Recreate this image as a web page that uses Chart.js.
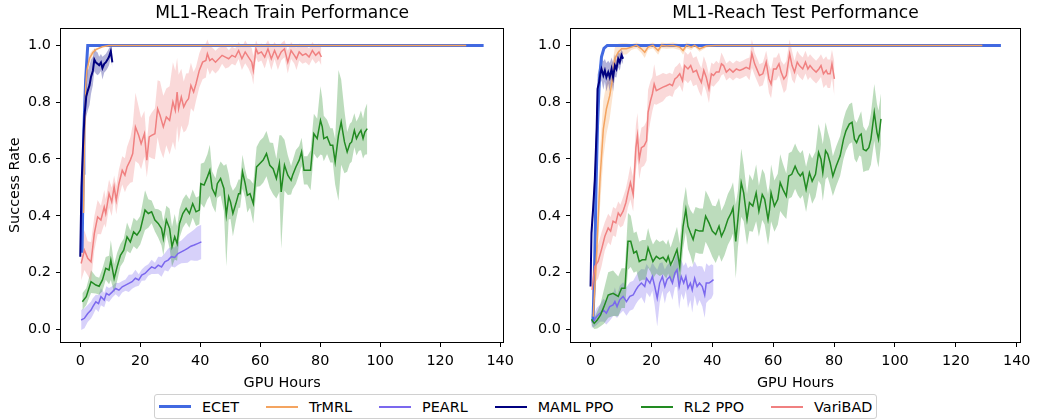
<!DOCTYPE html>
<html>
<head>
<meta charset="utf-8">
<title>ML1-Reach Performance</title>
<script src="https://cdn.jsdelivr.net/npm/chart.js@4.4.0/dist/chart.umd.min.js"></script>
<style>
  body { margin: 0; background: #fff; font-family: "DejaVu Sans", sans-serif; }
  #page { position: relative; width: 1037px; height: 420px; overflow: hidden; }
  .panel { position: absolute; top: 0; height: 392px; }
  #trainBox { left: 0; width: 520px; }
  #testBox { left: 520px; width: 517px; }
  #legend {
    position: absolute; left: 154px; top: 394px; height: 23px;
    border: 1px solid #d0d0d0; border-radius: 3px;
    display: flex; align-items: center; padding: 0 4px; gap: 27px;
    font-size: 14.4px; color: #000; white-space: nowrap;
  }
  .item { display: flex; align-items: center; }
  .swatch { width: 32px; margin-right: 11px; }
</style>
</head>
<body>
<div id="page">
  <div class="panel" id="trainBox"><canvas id="trainChart"></canvas></div>
  <div class="panel" id="testBox"><canvas id="testChart"></canvas></div>
  <div id="legend"></div>
</div>
<script>
// series, legend order
const SERIES = ['ECET', 'TrMRL', 'PEARL', 'MAML PPO', 'RL2 PPO', 'VariBAD'];
const COLORS = ['#4169e1', '#f4a460', '#7b68ee', '#000080', '#228b22', '#f08080'];
const BANDS = ['rgba(65,105,225,0.3)', 'rgba(244,164,96,0.3)', 'rgba(123,104,238,0.3)',
               'rgba(0,0,128,0.3)', 'rgba(34,139,34,0.3)', 'rgba(240,128,128,0.3)'];
const WIDTHS = [3, 1.5, 1.5, 2, 1.5, 1.5];

const X_TICKS = [0, 20, 40, 60, 80, 100, 120, 140];
const Y_TICKS = [0.0, 0.2, 0.4, 0.6, 0.8, 1.0];

// each run: [GPU hours, success rate, band half-width]
const trainEcet = [[0.6,0.27,0],[1.0,0.55,0],[1.2,0.70,0],[1.8,0.88,0],[2.5,1.0,0],[134.5,1.0,0]];
const trainTrmrl = [[1.1,0.41,0],[1.4,0.65,0.02],[1.8,0.85,0.02],[2.2,0.91,0.02],[3.1,0.955,0.015],
  [4.2,0.975,0.01],[5.2,0.985,0.005],[7.4,0.995,0],[9.6,1.0,0],[128.7,1.0,0]];
const trainPearl = [[0.3,0.033,0.035],[1.4,0.039,0.035],[2.5,0.056,0.03],[3.6,0.068,0.03],[4.2,0.08,0.03],
  [5.2,0.097,0.025],[6.1,0.091,0.03],[6.9,0.115,0.03],[8.0,0.103,0.025],[8.7,0.127,0.025],[9.6,0.121,0.025],
  [10.7,0.132,0.02],[11.8,0.144,0.02],[12.9,0.138,0.025],[14.0,0.15,0.02],[15.1,0.156,0.02],[16.2,0.162,0.03],
  [17.3,0.168,0.025],[18.4,0.18,0.03],[19.5,0.174,0.02],[20.5,0.191,0.02],[21.6,0.197,0.025],[22.7,0.209,0.02],
  [23.8,0.22,0.025],[24.9,0.215,0.02],[26.0,0.226,0.03],[27.1,0.22,0.035],[28.2,0.238,0.03],[29.3,0.244,0.04],
  [30.4,0.256,0.035],[31.5,0.253,0.035],[32.6,0.267,0.04],[33.7,0.273,0.04],[34.8,0.279,0.045],[35.8,0.285,0.05],
  [36.9,0.293,0.05],[38.0,0.297,0.055],[39.1,0.302,0.06],[40.4,0.308,0.06]];
const trainMaml = [[0,0.256,0.03],[0.4,0.50,0.06],[0.9,0.64,0.06],[1.4,0.75,0.06],[2.0,0.82,0.07],[2.5,0.84,0.07],
  [3.1,0.86,0.07],[3.6,0.89,0.06],[4.2,0.91,0.05],[4.7,0.95,0.04],[5.2,0.94,0.04],[5.8,0.935,0.04],[6.3,0.93,0.03],
  [6.9,0.94,0.03],[7.4,0.92,0.04],[8.0,0.935,0.03],[8.5,0.94,0.03],[9.1,0.95,0.03],[9.6,0.96,0.03],[10.2,0.98,0.02],
  [10.7,0.94,0.02]];
const trainRl2 = [[0.7,0.097,0.03],[2.0,0.115,0.03],[3.6,0.168,0.04],[5.2,0.156,0.03],[6.3,0.152,0.03],
  [7.4,0.174,0.04],[8.5,0.215,0.04],[9.6,0.209,0.05],[10.2,0.244,0.07],[11.3,0.179,0.05],[12.3,0.220,0.05],
  [13.4,0.261,0.04],[14.5,0.279,0.04],[15.6,0.326,0.05],[16.7,0.308,0.04],[17.8,0.343,0.05],[18.9,0.332,0.05],
  [20.0,0.349,0.05],[21.6,0.420,0.07],[22.7,0.408,0.05],[23.8,0.414,0.04],[24.9,0.385,0.04],[26.0,0.373,0.05],
  [27.1,0.355,0.06],[27.7,0.320,0.06],[28.7,0.385,0.05],[29.8,0.355,0.07],[30.6,0.291,0.07],[31.5,0.326,0.08],
  [32.3,0.302,0.06],[33.1,0.373,0.05],[34.2,0.408,0.05],[35.3,0.426,0.05],[36.4,0.408,0.05],[37.5,0.443,0.05],
  [38.6,0.414,0.05],[39.7,0.420,0.05],[40.2,0.513,0.07],[41.3,0.508,0.08],[42.4,0.537,0.08],[43.2,0.560,0.09],
  [44.0,0.496,0.06],[45.1,0.472,0.06],[45.7,0.513,0.05],[46.8,0.531,0.06],[47.9,0.496,0.08],[48.7,0.402,0.18],
  [49.5,0.467,0.08],[50.1,0.449,0.06],[50.9,0.408,0.08],[51.9,0.443,0.06],[52.8,0.478,0.05],[53.3,0.478,0.05],
  [54.1,0.555,0.06],[55.0,0.513,0.05],[55.7,0.472,0.06],[56.6,0.478,0.05],[57.7,0.443,0.07],[58.8,0.572,0.07],
  [59.9,0.584,0.08],[61.0,0.596,0.08],[62.1,0.619,0.08],[63.2,0.578,0.08],[64.3,0.566,0.09],[65.4,0.531,0.07],
  [66.4,0.584,0.10],[67.0,0.484,0.20],[68.1,0.578,0.09],[69.2,0.543,0.07],[70.3,0.525,0.05],[70.8,0.543,0.05],
  [71.9,0.572,0.06],[73.0,0.596,0.05],[73.8,0.625,0.05],[74.6,0.560,0.05],[75.7,0.560,0.05],[76.8,0.560,0.07],
  [77.9,0.689,0.07],[79.0,0.672,0.07],[80.1,0.736,0.12],[80.7,0.713,0.10],[81.2,0.672,0.08],[82.3,0.678,0.06],
  [83.4,0.648,0.06],[84.2,0.648,0.06],[85.0,0.590,0.08],[86.1,0.683,0.23],[87.0,0.730,0.15],[88.1,0.660,0.11],
  [89.0,0.625,0.07],[89.9,0.654,0.07],[90.5,0.660,0.07],[91.4,0.701,0.06],[92.1,0.672,0.06],[92.9,0.689,0.06],
  [93.6,0.701,0.07],[94.3,0.672,0.07],[94.9,0.695,0.08],[95.7,0.707,0.09]];
const trainVaribad = [[0.3,0.232,0.06],[1.4,0.279,0.07],[2.5,0.250,0.06],[3.6,0.238,0.07],[4.7,0.338,0.06],
  [5.8,0.396,0.06],[6.9,0.385,0.05],[8.0,0.431,0.06],[8.5,0.408,0.05],[9.6,0.478,0.05],[10.5,0.449,0.05],
  [11.3,0.502,0.04],[12.0,0.455,0.05],[12.9,0.513,0.05],[14.0,0.560,0.05],[14.9,0.543,0.06],[15.6,0.572,0.07],
  [16.7,0.596,0.08],[17.5,0.619,0.10],[18.4,0.713,0.12],[19.5,0.683,0.10],[20.3,0.654,0.09],[21.4,0.689,0.08],
  [22.2,0.596,0.06],[23.0,0.678,0.07],[23.8,0.683,0.08],[24.9,0.689,0.09],[25.8,0.777,0.10],[26.6,0.754,0.12],
  [27.7,0.713,0.11],[28.7,0.748,0.10],[29.8,0.736,0.12],[30.9,0.801,0.14],[31.7,0.771,0.14],[32.3,0.836,0.12],
  [32.8,0.777,0.12],[33.7,0.818,0.10],[34.5,0.783,0.09],[35.3,0.801,0.10],[36.1,0.812,0.09],[36.9,0.859,0.08],
  [37.8,0.836,0.07],[38.6,0.865,0.06],[39.7,0.912,0.06],[40.8,0.941,0.06],[41.9,0.947,0.06],[42.4,0.971,0.05],
  [43.2,0.947,0.05],[44.0,0.953,0.04],[45.1,0.941,0.04],[46.2,0.953,0.04],[47.3,0.965,0.03],[48.4,0.959,0.04],
  [49.5,0.953,0.03],[50.6,0.965,0.03],[51.7,0.959,0.03],[52.8,0.982,0.03],[53.9,0.953,0.04],[55.0,0.977,0.04],
  [56.1,0.959,0.04],[57.2,0.941,0.05],[57.7,0.912,0.05],[58.6,0.988,0.03],[59.3,0.971,0.03],[60.4,0.977,0.03],
  [61.5,0.959,0.04],[62.6,0.988,0.03],[63.7,0.953,0.04],[64.8,0.982,0.03],[65.9,0.953,0.04],[67.0,0.977,0.03],
  [68.1,0.988,0.03],[69.2,0.941,0.04],[70.3,0.982,0.03],[71.4,0.965,0.03],[72.1,0.953,0.04],[73.0,0.977,0.03],
  [74.1,0.965,0.03],[75.2,0.971,0.03],[76.3,0.959,0.03],[77.4,0.982,0.03],[78.5,0.965,0.03],[79.6,0.977,0.03],
  [80.4,0.959,0.03]];

const testEcet = [[0.8,0.03,0],[1.3,0.2,0],[1.8,0.5,0],[2.3,0.72,0],[2.9,0.88,0],[3.6,0.96,0],[4.4,0.99,0],
  [5.5,1.0,0],[134.8,1.0,0]];
const testTrmrl = [[0.9,0.045,0.02],[2.0,0.269,0.08],[3.1,0.528,0.1],[4.2,0.705,0.1],[5.2,0.776,0.09],
  [6.3,0.823,0.08],[7.4,0.894,0.06],[8.0,0.953,0.04],[9.1,0.976,0.03],[10.2,0.988,0.02],[11.8,0.988,0.02],
  [13.4,0.994,0.01],[15.1,1.0,0.01],[16.7,0.988,0.015],[17.8,0.976,0.02],[18.9,0.994,0.01],[20.5,1.0,0.01],
  [22.2,0.982,0.015],[23.3,1.0,0.01],[24.9,0.998,0.01],[27.1,1.0,0.01],[29.3,0.994,0.01],[30.4,0.982,0.015],
  [31.5,1.0,0.01],[33.1,0.994,0.01],[34.2,1.0,0.005],[35.8,0.988,0.01],[38.0,0.998,0.005],[41.3,1.0,0],
  [128.7,1.0,0]];
const testPearl = [[0.3,0.027,0.02],[0.9,0.027,0.02],[2.0,0.045,0.03],[3.1,0.057,0.03],[4.2,0.068,0.04],
  [5.2,0.057,0.04],[6.3,0.080,0.05],[7.4,0.086,0.04],[8.0,0.098,0.05],[8.7,0.080,0.04],[9.6,0.104,0.05],
  [10.7,0.116,0.05],[11.8,0.098,0.05],[12.9,0.116,0.05],[14.0,0.121,0.05],[14.9,0.139,0.05],[15.6,0.151,0.05],
  [16.7,0.163,0.05],[17.8,0.151,0.06],[18.4,0.180,0.05],[19.5,0.163,0.05],[20.3,0.186,0.05],[21.1,0.151,0.07],
  [21.9,0.110,0.1],[22.7,0.163,0.07],[23.6,0.186,0.05],[24.4,0.151,0.06],[25.1,0.175,0.05],[26.0,0.186,0.05],
  [26.9,0.163,0.06],[27.7,0.198,0.05],[28.4,0.210,0.06],[29.1,0.151,0.08],[29.8,0.186,0.06],[30.6,0.163,0.06],
  [31.3,0.186,0.05],[32.0,0.145,0.07],[32.8,0.163,0.06],[33.4,0.139,0.08],[34.2,0.180,0.06],[35.0,0.151,0.07],
  [35.8,0.163,0.06],[36.7,0.151,0.07],[37.5,0.121,0.08],[38.0,0.163,0.07],[38.9,0.163,0.06],[39.7,0.169,0.06],
  [40.4,0.175,0.05]];
const testMaml = [[0,0.151,0.02],[0.3,0.34,0.04],[0.9,0.434,0.04],[1.4,0.528,0.05],[2.0,0.705,0.05],
  [2.3,0.847,0.05],[2.8,0.87,0.05],[3.3,0.906,0.04],[3.6,0.917,0.04],[4.2,0.894,0.05],[4.7,0.912,0.04],
  [5.2,0.888,0.05],[5.8,0.906,0.04],[6.3,0.888,0.05],[6.9,0.917,0.04],[7.4,0.888,0.05],[8.0,0.929,0.04],
  [8.5,0.917,0.03],[9.1,0.953,0.03],[9.6,0.941,0.03],[10.2,0.965,0.02],[10.7,0.953,0.02]];
const testRl2 = [[0.3,0.035,0.02],[1.2,0.021,0.02],[2.2,0.033,0.03],[3.3,0.051,0.04],[4.4,0.080,0.06],
  [5.8,0.121,0.08],[7.4,0.127,0.08],[9.1,0.116,0.07],[10.2,0.145,0.07],[11.3,0.145,0.07],[12.3,0.310,0.1],
  [13.2,0.310,0.09],[14.2,0.269,0.07],[15.1,0.275,0.07],[16.0,0.239,0.07],[17.0,0.245,0.07],[18.1,0.245,0.07],
  [18.9,0.287,0.07],[19.7,0.263,0.06],[20.5,0.239,0.06],[21.6,0.257,0.06],[22.7,0.248,0.06],[23.8,0.254,0.06],
  [24.9,0.239,0.06],[25.5,0.257,0.06],[26.3,0.228,0.06],[27.1,0.245,0.07],[28.4,0.281,0.08],[29.3,0.222,0.08],
  [30.4,0.363,0.08],[31.3,0.422,0.08],[32.0,0.363,0.08],[32.8,0.340,0.08],[33.7,0.316,0.09],[34.5,0.351,0.08],
  [35.8,0.346,0.08],[36.9,0.346,0.08],[37.8,0.399,0.09],[38.9,0.375,0.09],[40.0,0.346,0.09],[41.1,0.334,0.1],
  [42.2,0.363,0.1],[43.0,0.328,0.09],[44.0,0.351,0.09],[45.1,0.387,0.09],[46.2,0.410,0.09],[46.8,0.428,0.09],
  [47.7,0.310,0.13],[48.4,0.387,0.1],[49.5,0.517,0.12],[50.3,0.481,0.1],[51.4,0.387,0.09],[52.2,0.446,0.1],
  [53.3,0.434,0.09],[54.4,0.481,0.1],[55.3,0.416,0.09],[56.4,0.475,0.09],[57.2,0.458,0.09],[58.3,0.387,0.09],
  [58.8,0.422,0.09],[59.3,0.481,0.1],[60.4,0.434,0.09],[61.5,0.458,0.09],[62.3,0.517,0.1],[63.2,0.493,0.09],
  [64.3,0.469,0.08],[65.1,0.540,0.08],[66.1,0.546,0.08],[67.2,0.575,0.08],[68.1,0.552,0.08],[68.9,0.540,0.08],
  [69.7,0.552,0.08],[70.8,0.493,0.08],[71.9,0.552,0.07],[72.8,0.522,0.08],[73.9,0.546,0.08],[74.9,0.623,0.1],
  [75.7,0.599,0.09],[76.3,0.552,0.1],[77.2,0.629,0.1],[77.9,0.617,0.08],[78.7,0.587,0.08],[79.6,0.540,0.07],
  [80.7,0.575,0.07],[82.0,0.611,0.07],[83.1,0.670,0.07],[83.9,0.699,0.07],[85.0,0.723,0.07],[85.9,0.729,0.07],
  [86.7,0.670,0.07],[87.4,0.658,0.07],[88.3,0.682,0.07],[88.9,0.688,0.08],[89.6,0.634,0.08],[90.5,0.629,0.07],
  [91.4,0.640,0.08],[92.1,0.670,0.09],[93.2,0.764,0.1],[94.1,0.693,0.1],[94.6,0.670,0.1],[95.4,0.741,0.09]];
const testVaribad = [[0.5,0.139,0.05],[1.4,0.222,0.06],[2.5,0.239,0.06],[3.6,0.281,0.06],[4.7,0.328,0.05],
  [5.8,0.357,0.05],[6.6,0.346,0.05],[7.4,0.381,0.05],[8.3,0.375,0.05],[9.1,0.410,0.04],[9.8,0.399,0.04],
  [10.7,0.416,0.05],[11.6,0.446,0.05],[12.3,0.481,0.05],[13.1,0.517,0.06],[14.0,0.475,0.06],[14.9,0.640,0.08],
  [15.4,0.682,0.08],[16.0,0.599,0.07],[16.7,0.640,0.07],[17.6,0.646,0.07],[18.4,0.664,0.07],[18.9,0.764,0.08],
  [19.7,0.805,0.07],[20.3,0.829,0.06],[20.9,0.864,0.07],[21.6,0.841,0.05],[22.7,0.847,0.05],[23.8,0.853,0.05],
  [24.9,0.858,0.04],[26.0,0.864,0.04],[26.9,0.858,0.04],[27.7,0.882,0.04],[28.4,0.888,0.04],[29.3,0.900,0.04],
  [30.2,0.876,0.04],[30.9,0.929,0.05],[32.0,0.917,0.05],[32.9,0.929,0.05],[33.7,0.906,0.05],[34.8,0.912,0.05],
  [35.6,0.888,0.05],[36.4,0.870,0.05],[37.2,0.912,0.05],[38.0,0.888,0.05],[38.9,0.847,0.05],[39.7,0.900,0.04],
  [40.4,0.894,0.04],[41.3,0.906,0.04],[42.2,0.906,0.03],[43.0,0.935,0.04],[43.7,0.929,0.03],[44.6,0.906,0.03],
  [45.7,0.917,0.03],[46.8,0.906,0.03],[47.9,0.917,0.03],[49.0,0.912,0.03],[50.1,0.917,0.03],[51.1,0.923,0.03],
  [52.2,0.917,0.04],[53.0,0.971,0.05],[53.9,0.935,0.04],[54.8,0.912,0.04],[55.5,0.894,0.04],[56.6,0.900,0.04],
  [57.7,0.941,0.04],[58.6,0.882,0.05],[59.3,0.864,0.05],[60.1,0.917,0.04],[61.0,0.917,0.04],[61.9,0.935,0.04],
  [62.6,0.906,0.04],[63.5,0.882,0.05],[64.3,0.894,0.05],[65.4,0.971,0.05],[66.2,0.929,0.05],[67.0,0.906,0.04],
  [67.9,0.941,0.04],[68.6,0.929,0.04],[69.7,0.917,0.04],[70.6,0.941,0.04],[71.4,0.917,0.04],[72.1,0.929,0.04],
  [73.0,0.917,0.04],[74.1,0.906,0.04],[75.0,0.917,0.04],[75.7,0.929,0.04],[76.5,0.900,0.05],[77.4,0.912,0.05],
  [77.9,0.900,0.05],[78.7,0.900,0.05],[79.3,0.935,0.05],[80.1,0.882,0.06]];

const trainRuns = [trainEcet, trainTrmrl, trainPearl, trainMaml, trainRl2, trainVaribad];
const testRuns = [testEcet, testTrmrl, testPearl, testMaml, testRl2, testVaribad];

const FONT = 'DejaVu Sans';
const TEXT_SIZE = 14.4;
Chart.defaults.font.family = FONT;
Chart.defaults.color = '#000';

// bands go under every line, like matplotlib's fill_between (zorder 1)
function buildDatasets(runs) {
  const ds = [];
  runs.forEach((run, i) => {
    if (!run.some(p => p[2] > 0)) return;
    const lowIdx = ds.length;
    ds.push({
      data: run.map(p => ({ x: p[0], y: p[1] - p[2] })),
      borderColor: 'rgba(0,0,0,0)', borderWidth: 0, pointRadius: 0, fill: false, order: 200 - i
    });
    ds.push({
      data: run.map(p => ({ x: p[0], y: p[1] + p[2] })),
      borderColor: 'rgba(0,0,0,0)', borderWidth: 0, pointRadius: 0,
      fill: lowIdx, backgroundColor: BANDS[i], order: 200 - i
    });
  });
  runs.forEach((run, i) => {
    ds.push({
      label: SERIES[i],
      data: run.map(p => ({ x: p[0], y: p[1] })),
      borderColor: COLORS[i], borderWidth: WIDTHS[i],
      pointRadius: 0, tension: 0, fill: false, order: 100 - i
    });
  });
  return ds;
}

// top/right spines like matplotlib
const frame = {
  id: 'frame',
  afterDraw(chart) {
    const { ctx, chartArea: a } = chart;
    ctx.save();
    ctx.strokeStyle = '#000';
    ctx.lineWidth = 1;
    ctx.strokeRect(Math.round(a.left) + 0.5, Math.round(a.top) + 0.5,
      Math.round(a.right - a.left) - 1, Math.round(a.bottom - a.top) - 1);
    ctx.restore();
  }
};

function makeChart(id, runs, title, yTitle, yWidth, padRight) {
  return new Chart(document.getElementById(id), {
    type: 'line',
    data: { datasets: buildDatasets(runs) },
    options: {
      responsive: true,
      maintainAspectRatio: false,
      animation: false,
      events: [],
      layout: { padding: { left: 0, right: padRight, top: 0, bottom: 0 } },
      plugins: {
        legend: { display: false },
        tooltip: { enabled: false },
        title: {
          display: true, text: title, fullSize: false, color: '#000',
          font: { size: 17.1, weight: 'normal' }, padding: { top: 3, bottom: 4 }
        }
      },
      scales: {
        x: {
          type: 'linear', min: -6.75, max: 141.4,
          afterBuildTicks: s => { s.ticks = X_TICKS.map(v => ({ value: v })); },
          afterFit: s => { s.height = 49; },
          ticks: { font: { size: TEXT_SIZE }, color: '#000', padding: 6, maxRotation: 0,
                   callback: v => String(v) },
          grid: { drawOnChartArea: false, drawTicks: true, tickLength: 4, color: '#000' },
          border: { display: false },
          title: { display: true, text: 'GPU Hours', font: { size: TEXT_SIZE }, color: '#000',
                   padding: { top: 10, bottom: 0 } }
        },
        y: {
          type: 'linear', min: -0.048, max: 1.063,
          afterBuildTicks: s => { s.ticks = Y_TICKS.map(v => ({ value: v })); },
          afterFit: s => { s.width = yWidth; },
          ticks: { font: { size: TEXT_SIZE }, color: '#000', padding: 5,
                   callback: v => v.toFixed(1) },
          grid: { drawOnChartArea: false, drawTicks: true, tickLength: 4, color: '#000' },
          border: { display: false },
          title: { display: !!yTitle, text: yTitle, font: { size: TEXT_SIZE }, color: '#000',
                   padding: { top: 7, bottom: 0 } }
        }
      }
    },
    plugins: [frame]
  });
}

makeChart('trainChart', trainRuns, 'ML1-Reach Train Performance', 'Success Rate', 60, 8);
makeChart('testChart', testRuns, 'ML1-Reach Test Performance', '', 50, 16);

// shared legend under both panels
const legend = document.getElementById('legend');
SERIES.forEach((name, i) => {
  const item = document.createElement('div');
  item.className = 'item';
  const sw = document.createElement('span');
  sw.className = 'swatch';
  sw.style.height = (i === 0 ? 3 : 2) + 'px';
  sw.style.background = COLORS[i];
  const label = document.createElement('span');
  label.textContent = name;
  item.appendChild(sw);
  item.appendChild(label);
  legend.appendChild(item);
});
</script>
</body>
</html>
